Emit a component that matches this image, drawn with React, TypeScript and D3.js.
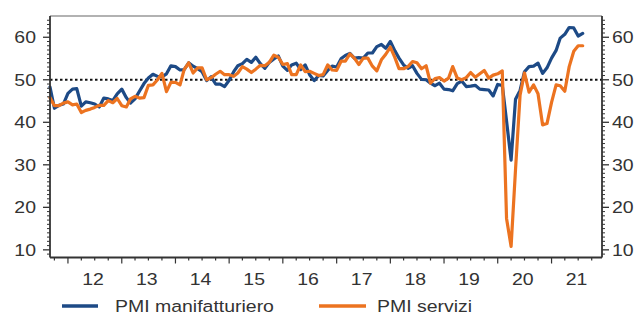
import React from 'react';
import * as d3 from 'd3';

// Monthly data, Sep 2011 .. Aug 2021
const startYear = 2011;
const startMonth = 8; // September (0-based)

const manufacturing: number[] = [
  48.3, 43.3, 44.0, 44.3,
  46.8, 47.8, 47.9, 43.8, 44.8, 44.6, 44.3, 43.6, 45.7, 45.5, 45.1, 46.7,
  47.8, 45.8, 44.5, 45.5, 47.3, 49.1, 50.4, 51.3, 50.8, 50.7, 51.4, 53.3,
  53.1, 52.3, 52.4, 54.0, 53.2, 52.6, 51.9, 49.8, 50.7, 49.0, 49.0, 48.4,
  49.9, 51.9, 53.3, 53.8, 54.8, 54.1, 55.3, 53.8, 52.7, 54.1, 54.9, 55.6,
  53.2, 52.2, 53.5, 53.9, 52.4, 53.5, 51.2, 49.8, 51.0, 50.9, 52.2, 53.2,
  53.0, 55.0, 55.7, 56.2, 55.1, 55.2, 55.1, 56.3, 56.3, 57.8, 58.3, 57.4,
  59.0, 56.8, 55.1, 53.5, 52.7, 53.3, 51.5, 50.1, 50.0, 49.2, 48.6, 49.2,
  47.8, 47.7, 47.4, 49.1, 49.7, 48.4, 48.5, 48.7, 47.8, 47.7, 47.6, 46.2,
  48.9, 48.7, 40.3, 31.1, 45.4, 47.5, 51.9, 53.1, 53.2, 53.9, 51.5, 52.8,
  55.1, 56.9, 59.8, 60.7, 62.3, 62.2, 60.3, 60.9,
];

const services: number[] = [
  45.8, 43.9, 43.9, 44.5,
  44.8, 44.1, 44.3, 42.3, 42.8, 43.1, 43.5, 44.0, 44.0, 45.1, 44.6, 45.6,
  43.9, 43.6, 45.5, 46.1, 45.7, 45.8, 48.7, 48.8, 50.0, 51.5, 47.2, 49.4,
  49.4, 48.8, 52.4, 54.0, 51.6, 52.8, 52.8, 50.0, 50.5, 51.3, 52.0, 51.2,
  51.2, 50.8, 51.6, 53.1, 52.5, 51.7, 52.5, 53.4, 53.3, 54.1, 55.8, 55.3,
  53.6, 53.8, 51.2, 51.2, 53.5, 51.9, 52.0, 51.5, 51.0, 51.2, 53.5, 52.3,
  52.2, 54.4, 54.4, 56.1, 55.1, 53.6, 55.1, 55.1, 53.2, 52.1, 54.7, 56.0,
  57.7, 55.2, 52.6, 52.6, 53.1, 54.3, 54.0, 52.6, 53.3, 49.2, 50.3, 50.5,
  49.7, 50.4, 53.1, 50.4, 50.0, 50.5, 51.7, 50.6, 51.4, 52.2, 50.4, 51.1,
  51.4, 52.1, 17.4, 10.8, 28.9, 46.4, 51.6, 47.1, 48.8, 46.7, 39.4, 39.7,
  44.7, 48.8, 48.6, 47.3, 53.1, 56.7, 58.0, 58.0,
];

const yTicks = [10, 20, 30, 40, 50, 60];
const labelYears = [2012, 2013, 2014, 2015, 2016, 2017, 2018, 2019, 2020, 2021];
const xLabels = ['12', '13', '14', '15', '16', '17', '18', '19', '20', '21'];
const seriesNames = ['PMI manifatturiero', 'PMI servizi'];
const seriesColors = ['#1d4a86', '#ec7320'];
const refLevel = 50;

const W = 637;
const H = 316;
const FONT = '"Liberation Sans", Arial, sans-serif';
const FS = 16.5;
const SX = 1.18;
const TXT = '#333';

export default function App() {
  const left = 50, right = 602, top = 16, bottom = 257.5;
  const x = d3.scaleTime()
    .domain([new Date(2011, 8, 1), new Date(2021, 11, 10)])
    .range([left, right]);
  const y = d3.scaleLinear().domain([8.2, 65]).range([bottom, top]);

  const dateOf = (i: number) => new Date(startYear, startMonth + i, 1);
  const line = d3.line<number>()
    .x((_, i) => x(dateOf(i)))
    .y((d) => y(d));

  const quarterTicks = d3.timeMonth.every(3)!.range(x.domain()[0], x.domain()[1])
    .filter((d) => d.getMonth() % 3 === 0);
  const minorY = d3.range(9, 65, 1).filter((v) => v % 10 !== 0);

  const series = [manufacturing, services];

  return (
    <svg width={W} height={H} style={{ position: 'absolute', left: 0, top: 0 }} fontFamily={FONT}>
      <rect x={0} y={0} width={W} height={H} fill="#fff" />
      {/* top border */}
      <line x1={left} x2={right} y1={top} y2={top} stroke="#999" strokeWidth={1.5} />
      {/* reference line at 50 */}
      <line x1={left} x2={right} y1={y(refLevel)} y2={y(refLevel)} stroke="#111" strokeWidth={2} strokeDasharray="2.5,2.5" />
      {/* series */}
      {series.map((s, k) => (
        <path key={k} d={line(s) || ''} fill="none" stroke={seriesColors[k]} strokeWidth={3.2} strokeLinejoin="round" strokeLinecap="round" />
      ))}
      {/* axes */}
      <line x1={left} x2={left} y1={top} y2={bottom} stroke="#333" strokeWidth={1.8} />
      <line x1={right} x2={right} y1={top} y2={bottom} stroke="#333" strokeWidth={1.8} />
      {minorY.map((v) => (
        <g key={'m' + v}>
          <line x1={left - 3} x2={left} y1={y(v)} y2={y(v)} stroke="#333" strokeWidth={1} />
          <line x1={right} x2={right + 3} y1={y(v)} y2={y(v)} stroke="#333" strokeWidth={1} />
        </g>
      ))}
      {yTicks.map((v) => (
        <g key={'y' + v}>
          <line x1={left - 7} x2={left} y1={y(v)} y2={y(v)} stroke="#333" strokeWidth={1.3} />
          <line x1={right} x2={right + 7} y1={y(v)} y2={y(v)} stroke="#333" strokeWidth={1.3} />
          <text transform={`translate(36,${y(v) + 6}) scale(${SX},1)`} textAnchor="end" fontSize={FS} fill={TXT}>{v}</text>
          <text transform={`translate(612,${y(v) + 6}) scale(${SX},1)`} textAnchor="start" fontSize={FS} fill={TXT}>{v}</text>
        </g>
      ))}
      <line x1={left} x2={right} y1={bottom} y2={bottom} stroke="#333" strokeWidth={1.8} />
      {quarterTicks.map((d, i) => (
        <line key={'q' + i} x1={x(d)} x2={x(d)} y1={bottom} y2={bottom + (d.getMonth() === 0 ? 6 : 3)} stroke="#333" strokeWidth={1.2} />
      ))}
      {labelYears.map((yr, i) => (
        <text key={'xl' + yr} transform={`translate(${x(new Date(yr, 5, 20))},285) scale(${SX},1)`} textAnchor="middle" fontSize={FS} fill={TXT}>{xLabels[i]}</text>
      ))}
      {/* legend */}
      <line x1={62} x2={98} y1={306} y2={306} stroke={seriesColors[0]} strokeWidth={3.5} />
      <text transform={`translate(115,311.5) scale(${SX},1)`} fontSize={FS} fill={TXT}>{seriesNames[0]}</text>
      <line x1={319} x2={366} y1={306} y2={306} stroke={seriesColors[1]} strokeWidth={3.5} />
      <text transform={`translate(377,311.5) scale(${SX},1)`} fontSize={FS} fill={TXT}>{seriesNames[1]}</text>
    </svg>
  );
}
